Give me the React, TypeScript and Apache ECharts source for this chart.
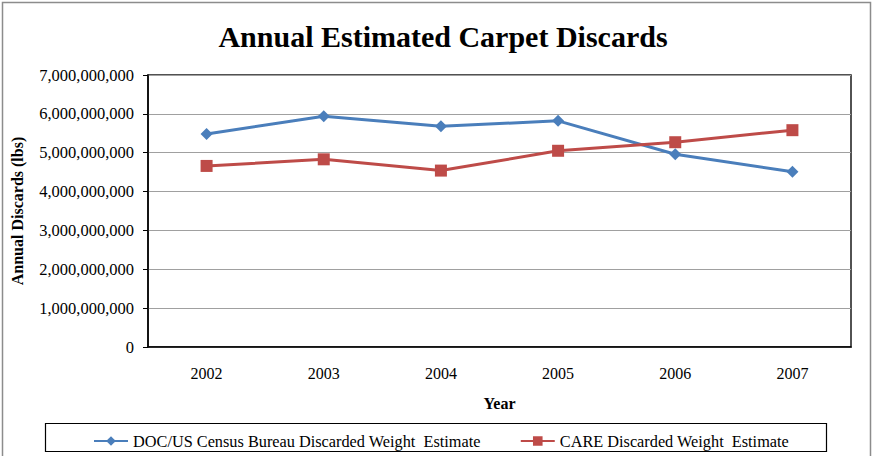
import React, { useEffect, useRef } from "react";
import * as echarts from "echarts";

const years = ["2002", "2003", "2004", "2005", "2006", "2007"];
const censusEstimate = [5.48e9, 5.94e9, 5.68e9, 5.82e9, 4.96e9, 4.51e9];
const careEstimate = [4.66e9, 4.83e9, 4.54e9, 5.05e9, 5.27e9, 5.58e9];
const censusName = "DOC/US Census Bureau Discarded Weight  Estimate";
const careName = "CARE Discarded Weight  Estimate";

const SERIF = "'Liberation Serif', 'Times New Roman', serif";

export default function App() {
  const ref = useRef<HTMLDivElement>(null);

  useEffect(() => {
    if (!ref.current) return;
    const chart = echarts.init(ref.current, undefined, { renderer: "svg" });
    chart.setOption({
      animation: false,
      backgroundColor: "#fff",
      textStyle: { fontFamily: SERIF, color: "#000" },
      title: {
        text: "Annual Estimated Carpet Discards",
        left: 438,
        textAlign: "center",
        top: 16,
        textStyle: { fontFamily: SERIF, fontSize: 30, fontWeight: "bold", color: "#000" },
      },
      graphic: [
        {
          type: "rect",
          shape: { x: 2.5, y: 2.5, width: 868, height: 460 },
          style: { fill: "none", stroke: "#8c8c8c", lineWidth: 1.5 },
          silent: true,
        },
        {
          type: "rect",
          shape: { x: 45.5, y: 423.5, width: 781, height: 28 },
          style: { fill: "none", stroke: "#000", lineWidth: 1.2 },
          silent: true,
        },
      ],
      legend: {
        left: 88,
        top: 428,
        itemGap: 39,
        itemWidth: 34,
        itemHeight: 12,
        textStyle: { fontFamily: SERIF, fontSize: 16.3, color: "#000" },
        data: [censusName, careName],
      },
      grid: {
        left: 148,
        right: 23,
        top: 75,
        bottom: 109,
        show: true,
        borderColor: "#1a1a1a",
        borderWidth: 1.5,
        backgroundColor: "transparent",
      },
      xAxis: [
        {
          type: "category",
          data: years,
          boundaryGap: true,
          name: "Year",
          nameLocation: "middle",
          nameGap: 48,
          nameTextStyle: { fontFamily: SERIF, fontSize: 16, fontWeight: "bold", color: "#000" },
          axisLine: { lineStyle: { color: "#000", width: 1.5 } },
          axisTick: { alignWithLabel: true, length: 4, lineStyle: { color: "#000" } },
          axisLabel: { fontFamily: SERIF, fontSize: 16, color: "#000", margin: 18 },
        },
        {
          type: "category",
          data: years,
          boundaryGap: true,
          position: "bottom",
          axisLine: { show: false },
          axisTick: { alignWithLabel: true, inside: true, length: 4, lineStyle: { color: "#000" } },
          axisLabel: { show: false },
        },
      ],
      yAxis: {
        type: "value",
        min: 0,
        max: 7e9,
        interval: 1e9,
        name: "Annual Discards (lbs)",
        nameLocation: "middle",
        nameRotate: 90,
        nameGap: 123,
        nameTextStyle: { fontFamily: SERIF, fontSize: 16, fontWeight: "bold", color: "#000" },
        axisLine: { show: true, lineStyle: { color: "#000", width: 1.5 } },
        axisTick: { show: true, length: 5, lineStyle: { color: "#000" } },
        axisLabel: {
          fontFamily: SERIF,
          fontSize: 16.5,
          color: "#000",
          margin: 14,
          formatter: (v: number) => v.toLocaleString("en-US"),
        },
        splitLine: { lineStyle: { color: "#a0a0a0", width: 1.2 } },
      },
      series: [
        {
          name: censusName,
          type: "line",
          data: censusEstimate,
          symbol: "diamond",
          symbolSize: 12,
          color: "#4a7ebb",
          lineStyle: { width: 3, color: "#4a7ebb" },
          itemStyle: { color: "#4a7ebb" },
          z: 3,
        },
        {
          name: careName,
          type: "line",
          data: careEstimate,
          symbol: "rect",
          symbolSize: 12,
          color: "#be4b48",
          lineStyle: { width: 3, color: "#be4b48" },
          itemStyle: { color: "#be4b48" },
          z: 4,
        },
      ],
    });
    return () => chart.dispose();
  }, []);

  return <div ref={ref} style={{ width: 874, height: 456, position: "absolute", left: 0, top: 0 }} />;
}
